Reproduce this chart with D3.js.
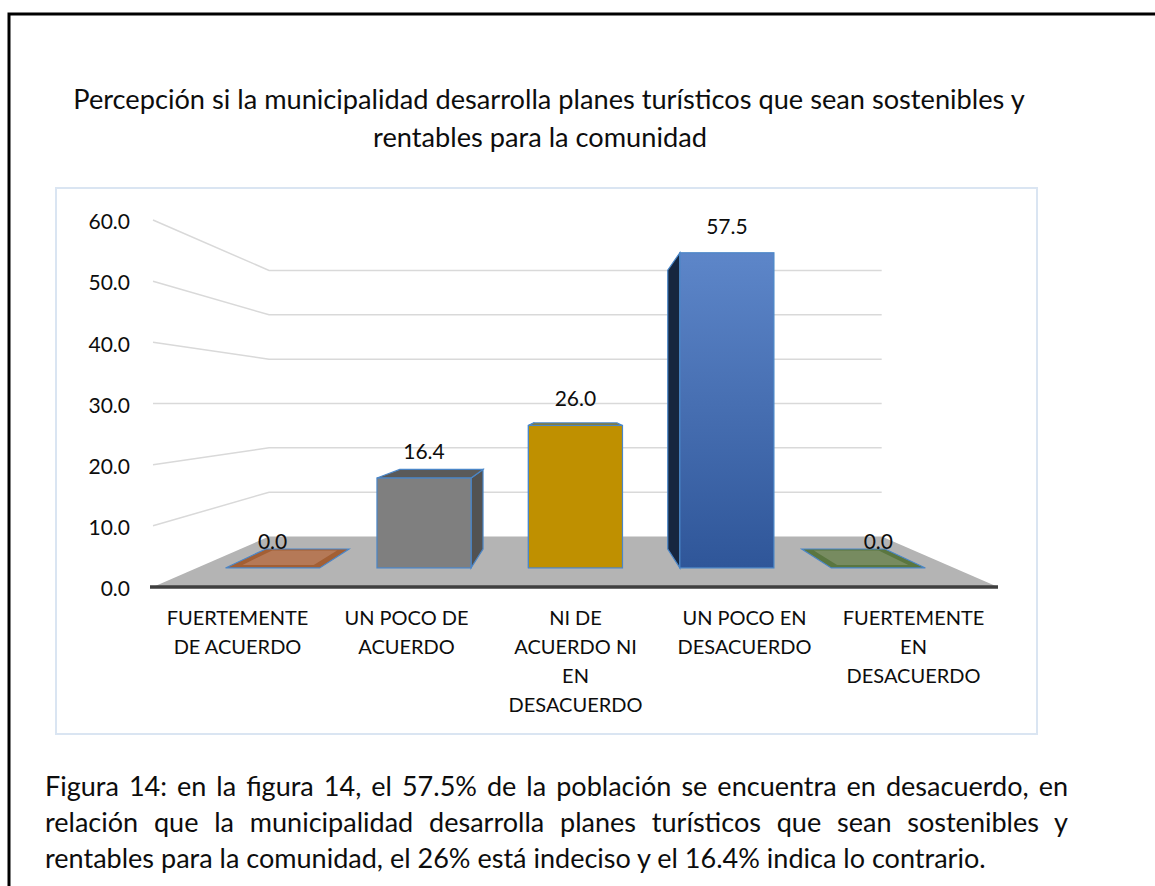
<!DOCTYPE html>
<html lang="es">
<head>
    <meta charset="UTF-8">
    <title>Percepción planes turísticos</title>
    <script src="https://d3js.org/d3.v7.min.js"></script>
    <style>
        body { margin: 0; background: #fff; }
        svg { display: block; font-family: Lato, "Open Sans", sans-serif; }
    </style>
</head>
<body>
<script>
    const w = 1155;
    const h = 886;

    // data
    const categories = ["FUERTEMENTE DE ACUERDO", "UN POCO DE ACUERDO", "NI DE ACUERDO NI EN DESACUERDO",
        "UN POCO EN DESACUERDO", "FUERTEMENTE EN DESACUERDO"];
    const categoryLines = [
        ["FUERTEMENTE", "DE ACUERDO"],
        ["UN POCO DE", "ACUERDO"],
        ["NI DE", "ACUERDO NI", "EN", "DESACUERDO"],
        ["UN POCO EN", "DESACUERDO"],
        ["FUERTEMENTE", "EN", "DESACUERDO"]
    ];
    const values = [0.0, 16.4, 26.0, 57.5, 0.0];
    const yTicks = [0, 10, 20, 30, 40, 50, 60];
    const titleLines = ["Percepción si la municipalidad desarrolla planes turísticos que sean sostenibles y",
        "rentables para la comunidad"];
    const captionLines = [
        "Figura 14: en la figura 14, el 57.5% de la población se encuentra en desacuerdo, en",
        "relación que la municipalidad desarrolla planes turísticos que sean sostenibles y",
        "rentables para la comunidad, el 26% está indeciso y el 16.4% indica lo contrario."
    ];

    // colours per bar: front, top, side, inner highlight of the top
    const barStyles = [
        {front: "#b8703e", top: "#a35f34", side: "#8a4f2c", hi: "#b98060"},
        {front: "#7f7f7f", top: "#5a5a5a", side: "#525252", hi: null},
        {front: "#bf9000", top: "#9c7600", side: "#8a6800", hi: null},
        {front: "url(#blueGrad)", top: "#3b62a6", side: "#16263f", hi: null},
        {front: "#627c49", top: "#5a7640", side: "#4a5f36", hi: "#7e9168"}
    ];

    const svg = d3.select("body")
        .append("svg")
        .attr("width", w)
        .attr("height", h);

    const defs = svg.append("defs");
    const grad = defs.append("linearGradient")
        .attr("id", "blueGrad")
        .attr("x1", 0).attr("y1", 0).attr("x2", 0).attr("y2", 1);
    grad.append("stop").attr("offset", "0%").attr("stop-color", "#5d86c9");
    grad.append("stop").attr("offset", "100%").attr("stop-color", "#2f5699");

    // outer page frame
    svg.append("path")
        .attr("d", "M9," + (h + 5) + " V14 H" + (w + 5))
        .attr("fill", "none")
        .attr("stroke", "#000")
        .attr("stroke-width", 3);

    // chart area border
    svg.append("rect")
        .attr("x", 56).attr("y", 188)
        .attr("width", 981).attr("height", 546)
        .attr("fill", "none")
        .attr("stroke", "#dae5f2")
        .attr("stroke-width", 2);

    // title
    const title = svg.append("g").attr("fill", "#0d0d0d");
    const t1 = title.append("text")
        .attr("x", 549).attr("y", 109)
        .attr("text-anchor", "middle")
        .attr("font-size", 24)
        .text(titleLines[0]);
    // fit first line to the width seen in the picture
    const titleSize = 24 * 952 / t1.node().getComputedTextLength();
    t1.attr("font-size", titleSize);
    title.append("text")
        .attr("x", 540).attr("y", 147)
        .attr("text-anchor", "middle")
        .attr("font-size", titleSize)
        .text(titleLines[1]);

    // scales (front plane) and a simple perspective toward the back wall
    const x = d3.scaleBand().domain(categories).range([153, 998]);
    const y = d3.scaleLinear().domain([0, 60]).range([587, 220]);
    const depth = d3.scaleLinear().domain([0, 1]).range([1, 0.725]);
    const cx = 575;
    const cy = y(30);
    function proj(px, py, z) {
        const s = depth(z);
        return [cx + (px - cx) * s, cy + (py - cy) * s];
    }
    const zFront = 0.378;
    const zBack = 0.753;
    const barW = 105;
    const line = d3.line();

    // floor
    const x0 = x.range()[0], x1 = x.range()[1];
    svg.append("path")
        .attr("d", line([proj(x0, y(0), 0), proj(x1, y(0), 0), proj(x1, y(0), 1), proj(x0, y(0), 1)]) + "Z")
        .attr("fill", "#b4b4b4");

    // gridlines: left wall then back wall
    svg.append("g")
        .selectAll("path")
        .data(yTicks.filter(d => d > 0))
        .enter()
        .append("path")
        .attr("d", d => line([proj(x0, y(d), 0), proj(x0, y(d), 1), proj(x1, y(d), 1)]))
        .attr("fill", "none")
        .attr("stroke", "#d9d9d9")
        .attr("stroke-width", 1.5);

    // floor front edge
    svg.append("path")
        .attr("d", line([proj(x0 - 3, y(0), 0), proj(x1, y(0), 0)]))
        .attr("stroke", "#3f3f3f")
        .attr("stroke-width", 3.5);

    // y axis labels
    const yAxis = d3.axisLeft(y)
        .tickValues(yTicks)
        .tickFormat(d3.format(".1f"))
        .tickSize(0)
        .tickPadding(23);
    const ax = svg.append("g")
        .attr("transform", "translate(" + x0 + ",2)")
        .call(yAxis);
    ax.select(".domain").remove();
    ax.selectAll("text")
        .attr("font-family", "Lato, sans-serif")
        .attr("font-size", 21)
        .attr("fill", "#0d0d0d");

    // bars
    const bars = svg.append("g")
        .selectAll("g")
        .data(values.map((v, i) => ({v: v, c: categories[i], st: barStyles[i]})))
        .enter()
        .append("g");

    bars.each(function(d) {
        const g = d3.select(this);
        const bx0 = x(d.c) + (x.bandwidth() - barW) / 2;
        const bx1 = bx0 + barW;
        const yt = y(d.v), yb = y(0);
        const mid = (bx0 + bx1) / 2;
        const sx = mid < cx ? bx1 : bx0;
        if (d.v > 0) {
            g.append("path")
                .attr("d", line([proj(sx, yt, zFront), proj(sx, yt, zBack), proj(sx, yb, zBack), proj(sx, yb, zFront)]) + "Z")
                .attr("fill", d.st.side)
                .attr("stroke", "#4a86c8")
                .attr("stroke-width", 1.2);
        }
        if (yt > cy) {
            g.append("path")
                .attr("d", line([proj(bx0, yt, zFront), proj(bx1, yt, zFront), proj(bx1, yt, zBack), proj(bx0, yt, zBack)]) + "Z")
                .attr("fill", d.st.top)
                .attr("stroke", "#4a86c8")
                .attr("stroke-width", 1.2);
            if (d.st.hi) {
                const i0 = bx0 + 12, i1 = bx1 - 12;
                const za = zFront + 0.06, zb = zBack - 0.03;
                g.append("path")
                    .attr("d", line([proj(i0, yt, za), proj(i1, yt, za), proj(i1, yt, zb), proj(i0, yt, zb)]) + "Z")
                    .attr("fill", d.st.hi)
                    .attr("opacity", 0.8);
            }
        }
        if (d.v > 0) {
            const p0 = proj(bx0, yt, zFront), p1 = proj(bx1, yb, zFront);
            g.append("rect")
                .attr("x", p0[0]).attr("y", p0[1])
                .attr("width", p1[0] - p0[0])
                .attr("height", p1[1] - p0[1])
                .attr("fill", d.st.front)
                .attr("stroke", "#4a86c8")
                .attr("stroke-width", 1.2);
        }
        const lp = proj(mid, yt, zFront);
        g.append("text")
            .attr("x", lp[0])
            .attr("y", lp[1] - 19)
            .attr("text-anchor", "middle")
            .attr("font-size", 21)
            .attr("fill", "#0d0d0d")
            .text(d3.format(".1f")(d.v));
    });

    // category labels
    svg.append("g")
        .selectAll("text")
        .data(categories)
        .enter()
        .append("text")
        .attr("text-anchor", "middle")
        .attr("font-size", 20)
        .attr("fill", "#0d0d0d")
        .each(function(c, i) {
            d3.select(this).selectAll("tspan")
                .data(categoryLines[i])
                .enter()
                .append("tspan")
                .attr("x", x(c) + x.bandwidth() / 2)
                .attr("y", (d, j) => 625 + j * 29)
                .text(d => d);
        });

    // caption, first two lines justified
    const cap = svg.append("g").attr("fill", "#0d0d0d");
    const last = cap.append("text")
        .attr("x", 45).attr("y", 868)
        .attr("font-size", 24)
        .text(captionLines[2]);
    const capSize = 24 * 941 / last.node().getComputedTextLength();
    last.attr("font-size", capSize);
    captionLines.slice(0, 2).forEach(function(t, i) {
        const el = cap.append("text")
            .attr("x", 45).attr("y", 796 + i * 36)
            .attr("font-size", capSize)
            .text(t);
        const gaps = t.split(" ").length - 1;
        const extra = (1023 - el.node().getComputedTextLength()) / gaps;
        el.attr("word-spacing", extra);
    });
</script>
</body>
</html>
